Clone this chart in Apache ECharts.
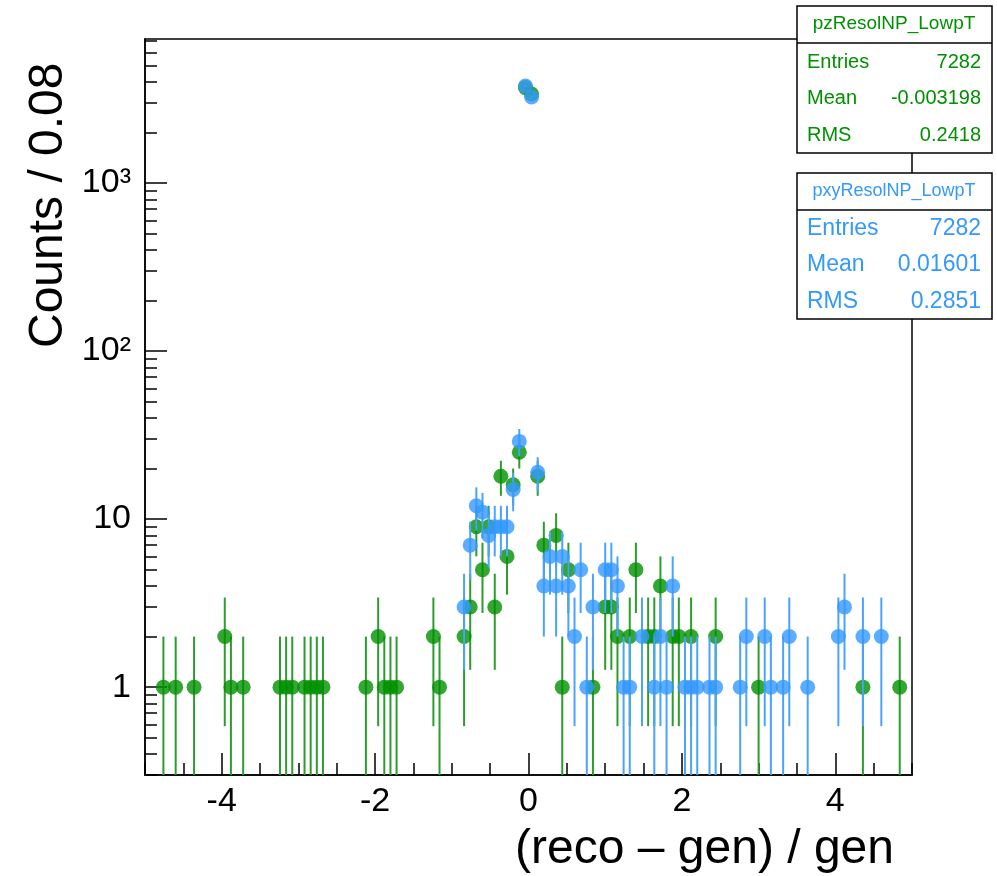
<!DOCTYPE html>
<html>
<head>
<meta charset="utf-8">
<script src="https://cdn.jsdelivr.net/npm/echarts@6/dist/echarts.min.js"></script>
<style>
html,body{margin:0;padding:0;background:#fff;}
#chart{width:997px;height:876px;}
</style>
</head>
<body>
<div id="chart"></div>
<script>
// ---- data: bin centres (reco-gen)/gen, bin width 0.08, and counts ----
const pzBins = [-4.76,-4.60,-4.36,-3.96,-3.88,-3.72,-3.24,-3.16,-3.08,-2.92,-2.84,-2.76,-2.68,-2.12,-1.96,-1.88,-1.80,-1.72,-1.24,-1.16,
  -0.84,-0.76,-0.68,-0.60,-0.52,-0.44,-0.36,-0.28,-0.20,-0.12,-0.04,0.04,0.12,0.20,0.36,0.44,0.52,0.84,1.00,1.08,1.16,1.32,1.40,1.56,1.64,1.72,1.88,1.96,2.12,2.44,3.00,4.36,4.84];
const pzCounts = [1,1,1,2,1,1,1,1,1,1,1,1,1,1,2,1,1,1,2,1,
  2,3,9,5,9,3,18,6,16,25,3700,3390,18,7,8,1,5,1,3,3,2,2,5,2,2,4,2,2,2,2,1,1,1];
const pxyBins = [-0.84,-0.76,-0.68,-0.60,-0.52,-0.44,-0.36,-0.28,-0.20,-0.12,-0.04,0.04,0.12,0.20,0.28,0.36,0.44,0.52,0.60,0.68,0.76,0.84,1.00,1.08,1.16,1.24,1.32,1.48,1.64,1.72,1.80,1.88,2.04,2.12,2.20,2.36,2.44,2.76,2.84,3.08,3.16,3.32,3.40,3.64,4.04,4.12,4.36,4.60];
const pxyCounts = [3,7,12,11,8,9,9,9,15,29,3780,3250,19,4,6,4,6,4,2,5,1,3,5,5,4,1,1,2,1,2,1,4,1,1,1,1,1,1,2,2,1,1,2,1,2,3,2,2];
const xTickLabels = [-4,-2,0,2,4];
const yTickLabels = ['1','10','10\u00B2','10\u00B3'];

const pzColor = '#009000';
const pxyColor = '#3399ff';
const Y_MIN = 0.3, Y_MAX = 7200;
const FONT = '"Liberation Sans", Arial, sans-serif';

function pairs(bins, counts){ return bins.map((b,i)=>[b, counts[i]]); }
const pzData = pairs(pzBins, pzCounts);
const pxyData = pairs(pxyBins, pxyCounts);

function errRender(color){
  return function(params, api){
    const x = api.value(0), n = api.value(1);
    const e = Math.sqrt(n);
    const lo = Math.max(n - e, Y_MIN);
    const hi = Math.min(n + e, Y_MAX);
    const p1 = api.coord([x, hi]);
    const p0 = api.coord([x, lo]);
    return {type:'line', shape:{x1:p1[0], y1:p1[1], x2:p0[0], y2:p0[1]},
      style:{stroke:color, lineWidth:2}};
  };
}

const majorX = xTickLabels.slice();
const minorX = [];
for (let v=-5; v<=5.001; v+=0.5){ const r=Math.round(v*10)/10; if (majorX.indexOf(r)<0) minorX.push(r); }
const majorY = [1,10,100,1000];
const minorY = [];
[0.1,1,10,100,1000].forEach(d=>{ for(let k=2;k<=9;k++){ const v=Math.round(d*k*1000)/1000; if (v>=Y_MIN && v<=Y_MAX) minorY.push(v);} });

const chart = echarts.init(document.getElementById('chart'), null, {renderer:'canvas'});
const option = {
  animation:false,
  backgroundColor:'#fff',
  grid:{left:145, right:85, top:39, bottom:101, show:true, borderColor:'#000', borderWidth:1.5, backgroundColor:'transparent'},
  xAxis:[
    {type:'value', min:-5, max:5, position:'bottom',
     axisLine:{show:true, onZero:false, lineStyle:{color:'#000', width:1.5}},
     axisTick:{show:true, inside:true, length:22, customValues:majorX, lineStyle:{color:'#000', width:1.5}},
     axisLabel:{show:true, customValues:xTickLabels, color:'#000', fontSize:34, fontFamily:FONT, margin:10,
       formatter:v=>String(Math.round(v))},
     splitLine:{show:false}},
    {type:'value', min:-5, max:5, position:'bottom',
     axisLine:{show:false, onZero:false},
     axisTick:{show:true, inside:true, length:12, customValues:minorX, lineStyle:{color:'#000', width:1.5}},
     axisLabel:{show:false}, splitLine:{show:false}}
  ],
  yAxis:[
    {type:'log', logBase:10, min:Y_MIN, max:Y_MAX, position:'left',
     axisLine:{show:true, onZero:false, lineStyle:{color:'#000', width:1.5}},
     axisTick:{show:true, inside:true, length:22, customValues:majorY, lineStyle:{color:'#000', width:1.5}},
     axisLabel:{show:true, customValues:majorY, color:'#000', fontSize:34, fontFamily:FONT, margin:14,
       formatter:v=>yTickLabels[Math.round(Math.log10(v))]},
     splitLine:{show:false}, minorTick:{show:false}},
    {type:'log', logBase:10, min:Y_MIN, max:Y_MAX, position:'left',
     axisLine:{show:false, onZero:false},
     axisTick:{show:true, inside:true, length:12, customValues:minorY, lineStyle:{color:'#000', width:1.5}},
     axisLabel:{show:false}, splitLine:{show:false}}
  ],
  series:[
    {type:'custom', name:'pzErr', xAxisIndex:0, yAxisIndex:0, renderItem:errRender('#2a9d2a'), data:pzData, z:2},
    {type:'scatter', name:'pzResolNP_LowpT', xAxisIndex:0, yAxisIndex:0, data:pzData, symbol:'circle', symbolSize:15,
     itemStyle:{color:pzColor}, z:3},
    {type:'custom', name:'pxyErr', xAxisIndex:0, yAxisIndex:0, renderItem:errRender('#4aa3ff'), data:pxyData, z:4},
    {type:'scatter', name:'pxyResolNP_LowpT', xAxisIndex:0, yAxisIndex:0, data:pxyData, symbol:'circle', symbolSize:15,
     itemStyle:{color:pxyColor}, z:5}
  ],
  graphic:[
    {type:'text', x:49, y:348, rotation:Math.PI/2, z:10,
     style:{text:'Counts / 0.08', font:'48px '+FONT, fill:'#000', textAlign:'left', textVerticalAlign:'middle'}},
    {type:'text', x:894, y:850, z:10,
     style:{text:'(reco \u2013 gen) / gen', font:'48px '+FONT, fill:'#000', textAlign:'right', textVerticalAlign:'middle'}},
    // stat box 1
    {type:'rect', shape:{x:797, y:6, width:195, height:147}, style:{fill:'#fff', stroke:'#000', lineWidth:1.5}, z:20},
    {type:'line', shape:{x1:797, y1:43, x2:992, y2:43}, style:{stroke:'#000', lineWidth:1.5}, z:21},
    {type:'text', x:894, y:24, z:22, style:{text:'pzResolNP_LowpT', font:'19px '+FONT, fill:pzColor, textAlign:'center', textVerticalAlign:'middle'}},
    {type:'text', x:807, y:62, z:22, style:{text:'Entries', font:'20px '+FONT, fill:pzColor, textAlign:'left', textVerticalAlign:'middle'}},
    {type:'text', x:981, y:62, z:22, style:{text:'7282', font:'20px '+FONT, fill:pzColor, textAlign:'right', textVerticalAlign:'middle'}},
    {type:'text', x:807, y:98, z:22, style:{text:'Mean', font:'20px '+FONT, fill:pzColor, textAlign:'left', textVerticalAlign:'middle'}},
    {type:'text', x:981, y:98, z:22, style:{text:'-0.003198', font:'20px '+FONT, fill:pzColor, textAlign:'right', textVerticalAlign:'middle'}},
    {type:'text', x:807, y:135, z:22, style:{text:'RMS', font:'20px '+FONT, fill:pzColor, textAlign:'left', textVerticalAlign:'middle'}},
    {type:'text', x:981, y:135, z:22, style:{text:'0.2418', font:'20px '+FONT, fill:pzColor, textAlign:'right', textVerticalAlign:'middle'}},
    // stat box 2
    {type:'rect', shape:{x:797, y:173, width:195, height:146}, style:{fill:'#fff', stroke:'#000', lineWidth:1.5}, z:20},
    {type:'line', shape:{x1:797, y1:210, x2:992, y2:210}, style:{stroke:'#000', lineWidth:1.5}, z:21},
    {type:'text', x:894, y:191, z:22, style:{text:'pxyResolNP_LowpT', font:'18px '+FONT, fill:pxyColor, textAlign:'center', textVerticalAlign:'middle'}},
    {type:'text', x:807, y:229, z:22, style:{text:'Entries', font:'23px '+FONT, fill:pxyColor, textAlign:'left', textVerticalAlign:'middle'}},
    {type:'text', x:981, y:229, z:22, style:{text:'7282', font:'23px '+FONT, fill:pxyColor, textAlign:'right', textVerticalAlign:'middle'}},
    {type:'text', x:807, y:265, z:22, style:{text:'Mean', font:'23px '+FONT, fill:pxyColor, textAlign:'left', textVerticalAlign:'middle'}},
    {type:'text', x:981, y:265, z:22, style:{text:'0.01601', font:'23px '+FONT, fill:pxyColor, textAlign:'right', textVerticalAlign:'middle'}},
    {type:'text', x:807, y:302, z:22, style:{text:'RMS', font:'23px '+FONT, fill:pxyColor, textAlign:'left', textVerticalAlign:'middle'}},
    {type:'text', x:981, y:302, z:22, style:{text:'0.2851', font:'23px '+FONT, fill:pxyColor, textAlign:'right', textVerticalAlign:'middle'}}
  ]
};
chart.setOption(option);
</script>
</body>
</html>
